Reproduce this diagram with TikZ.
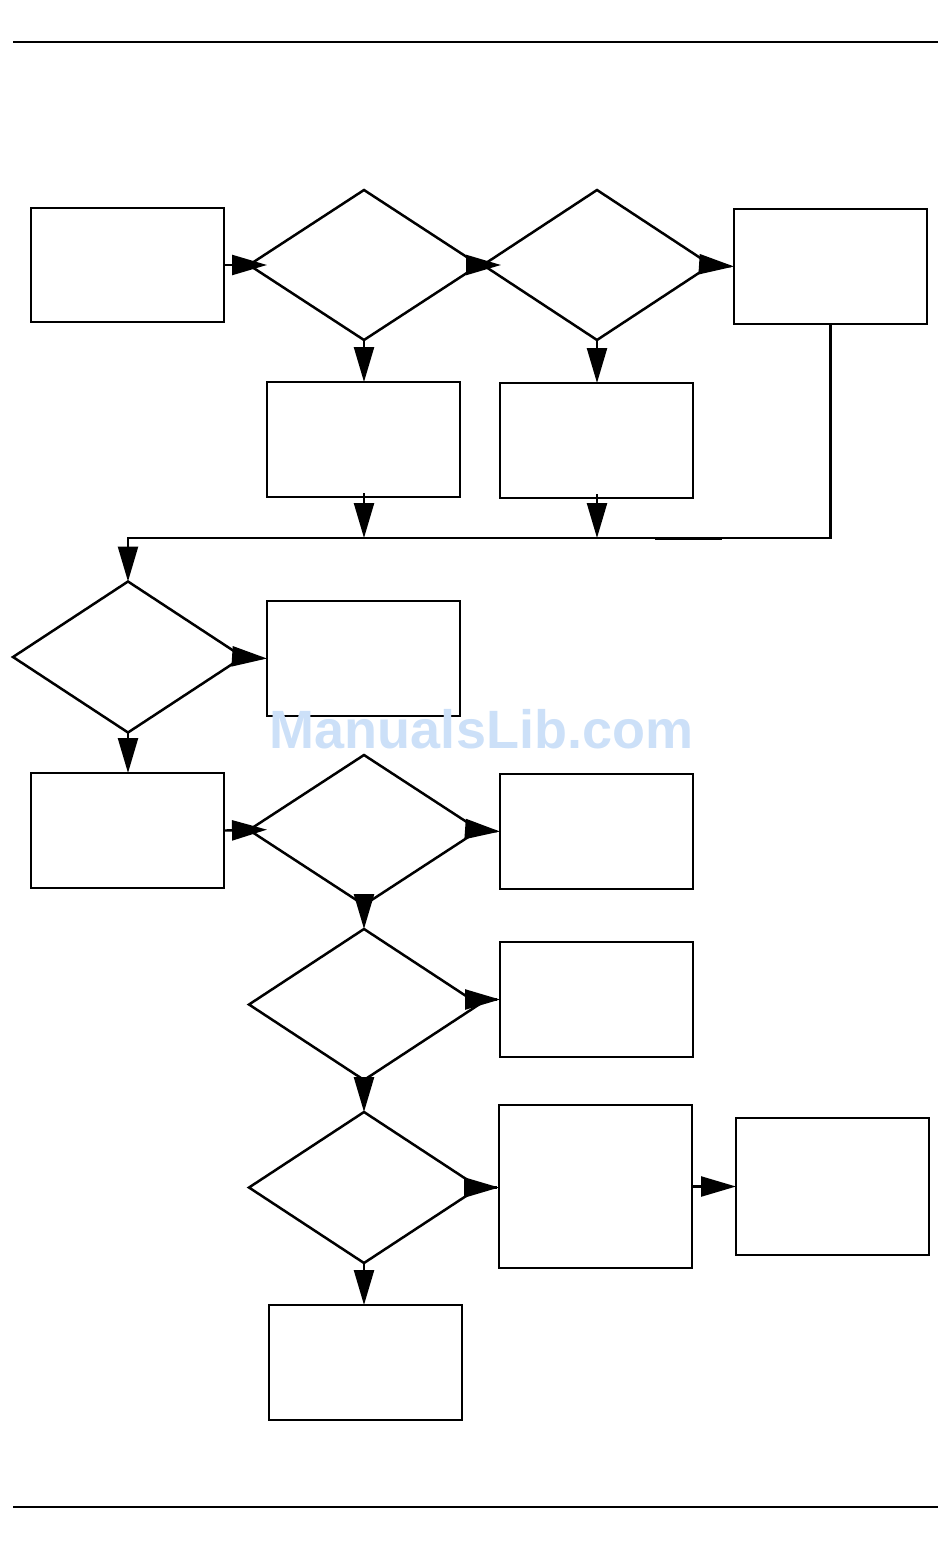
\documentclass[tikz,border=0pt]{standalone}
\usepackage{fontspec}
\newfontfamily\wmfont{Liberation Sans}
\usetikzlibrary{shapes.geometric,arrows.meta}
\definecolor{wmblue}{RGB}{204,224,248}
\begin{document}
\begin{tikzpicture}[x=1pt,y=-1pt,
  box/.style={draw,line width=2.5pt,rectangle,inner sep=0pt,outer sep=0pt,minimum width=193pt,minimum height=115pt},
  dia/.style={draw,line width=2.5pt,diamond,inner sep=0pt,outer sep=0pt,minimum width=230pt,minimum height=151pt},
  arr/.style={line width=2.4pt,-{Triangle[length=35pt,width=20pt]}},
  rule/.style={line width=1.3pt}]
\useasboundingbox (0,0) rectangle (950,1568);
\draw[rule] (13,42) -- (938,42);
\draw[rule] (13,1507) -- (938,1507);
% nodes
\node[box,minimum height=114pt] (b1) at (127.5,265) {};
\node[dia,minimum height=150pt] (d1) at (364,265) {};
\node[dia,minimum width=228pt,minimum height=150pt] (d2) at (597,265) {};
\node[box] (b11) at (830.5,266.5) {};
\node[box] (b2) at (363.5,439.5) {};
\node[box] (b3) at (596.5,440.5) {};
\node[dia] (d3) at (128,657) {};
\node[box] (b4) at (363.5,658.5) {};
\node[box] (b5) at (127.5,830.5) {};
\node[dia,minimum height=150pt] (d4) at (364,830) {};
\node[box] (b6) at (596.5,831.5) {};
\node[dia] (d5) at (364,1004.5) {};
\node[box] (b7) at (596.5,999.5) {};
\node[dia] (d6) at (364,1187.5) {};
\node[box,minimum height=163pt] (b8) at (595.5,1186.5) {};
\node[box,minimum height=137pt] (b9) at (832.5,1186.5) {};
\node[box] (b10) at (365.5,1362.5) {};
\coordinate (hl) at (0,538);
% connectors
\draw[arr,shorten >=-18pt] (b1.east) -- (d1.west);
\draw[arr,shorten <=-18pt,shorten >=-18pt] (d1.east) -- (d2.west);
\draw[arr,shorten <=-20pt] (d2.east) -- (b11.west);
\draw[arr] (d1.south) -- (d1.south |- b2.north);
\draw[arr] (d2.south) -- (d2.south |- b3.north);
\draw[arr,shorten <=-4pt] (d1.south |- b2.south) -- (d1.south |- hl);
\draw[arr,shorten <=-4pt] (d2.south |- b3.south) -- (d2.south |- hl);
\draw[arr] (b11.south) |- (d3.north |- hl) -- (d3.north);
\draw[line width=3.2pt] (655,538.2) -- (722,538.2);
\draw[arr,shorten <=-20pt] (d3.east) -- (b4.west);
\draw[arr] (d3.south) -- (d3.south |- b5.north);
\draw[arr,shorten >=-18pt] (b5.east) -- (d4.west);
\draw[arr,shorten <=-18pt] (d4.east) -- (b6.west);
\draw[arr] (d4.south) -- (d5.north);
\draw[arr,shorten <=-18pt] (d5.east |- b7.west) -- (b7.west);
\draw[arr] (d5.south) -- (d6.north);
\draw[arr,shorten <=-18pt] (d6.east) -- (d6.east -| b8.west);
\draw[arr] (b8.east |- b9.west) -- (b9.west);
\draw[arr] (d6.south) -- (d6.south |- b10.north);
% watermark
\node[anchor=base,inner sep=0pt,text=wmblue,font=\wmfont\bfseries\fontsize{54}{54}\selectfont] (wm) at (481.5,748) {ManualsLib.com};
\end{tikzpicture}
\end{document}
